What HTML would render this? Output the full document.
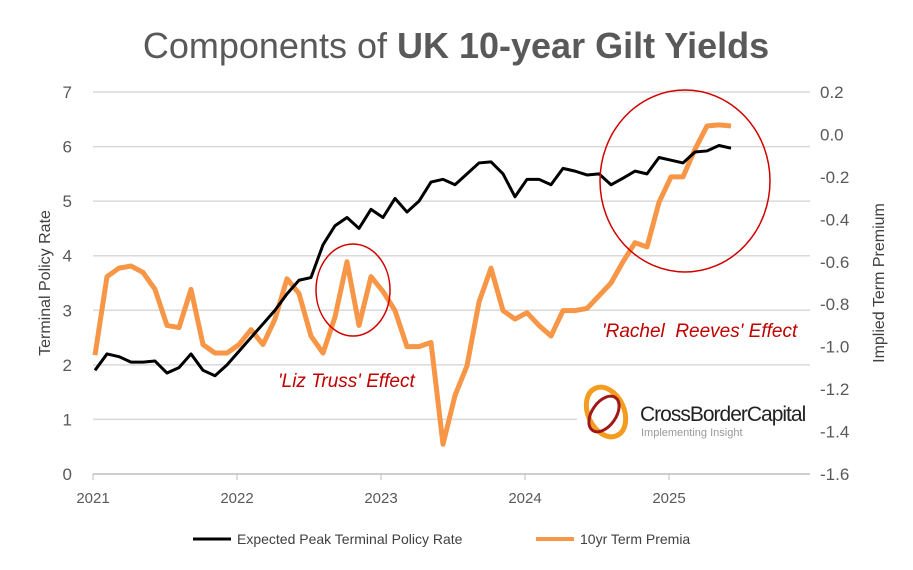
<!DOCTYPE html>
<html><head><meta charset="utf-8"><style>
body{margin:0;background:#fff;font-family:"Liberation Sans",sans-serif}
svg{display:block}
</style></head><body>
<svg id="c" width="913" height="570">
<text x="456" y="58" text-anchor="middle" font-size="36" fill="#595959">Components of <tspan font-weight="bold">UK 10-year Gilt Yields</tspan></text>
<g id="grid"></g>
<rect x="577" y="372" width="233" height="86" fill="#fff"/>
<g id="series"></g>
<ellipse cx="353" cy="290" rx="37" ry="46" fill="none" stroke="#d00000" stroke-width="1.5"/>
<ellipse cx="685" cy="181" rx="85" ry="91" fill="none" stroke="#d00000" stroke-width="1.5"/>
<text x="278" y="387" font-size="19" font-style="italic" fill="#c00000">'Liz Truss' Effect</text>
<text x="602" y="337" font-size="19" font-style="italic" fill="#c00000">'Rachel&#160; Reeves' Effect</text>
<g>
<ellipse cx="606" cy="412" rx="18" ry="26" fill="none" stroke="#f39c1f" stroke-width="5" transform="rotate(-25 606 412)"/>
<ellipse cx="604" cy="414" rx="12" ry="20" fill="none" stroke="#a01818" stroke-width="3" transform="rotate(35 604 414)"/>
<text x="640" y="421" font-size="21" fill="#222" letter-spacing="-1">CrossBorderCapital</text>
<text x="641" y="436" font-size="11" fill="#999">Implementing Insight</text>
</g>
<text transform="translate(50 283) rotate(-90)" text-anchor="middle" font-size="16" fill="#404040">Terminal Policy Rate</text>
<text transform="translate(884 283) rotate(-90)" text-anchor="middle" font-size="16" fill="#404040">Implied Term Premium</text>
<g>
<line x1="193" y1="539" x2="231" y2="539" stroke="#000" stroke-width="3"/>
<text x="237" y="544" font-size="14" fill="#404040">Expected Peak Terminal Policy Rate</text>
<line x1="536" y1="539" x2="574" y2="539" stroke="#f79646" stroke-width="4"/>
<text x="580" y="544" font-size="14" fill="#404040">10yr Term Premia</text>
</g>
</svg>
<script>
const leftTicks=[0,1,2,3,4,5,6,7];
const rightTicks=[-1.6,-1.4,-1.2,-1.0,-0.8,-0.6,-0.4,-0.2,0.0,0.2];
const years=[2021,2022,2023,2024,2025];
const policyRate=[1.9,2.2,2.15,2.05,2.05,2.07,1.85,1.95,2.2,1.9,1.8,2.0,2.25,2.5,2.75,3.0,3.3,3.55,3.6,4.2,4.55,4.7,4.5,4.85,4.7,5.05,4.8,5.0,5.35,5.4,5.3,5.5,5.7,5.72,5.5,5.08,5.4,5.4,5.3,5.6,5.55,5.48,5.5,5.3,5.42,5.55,5.5,5.8,5.75,5.7,5.9,5.92,6.02,5.97];
const termPremia=[-1.04,-0.67,-0.63,-0.62,-0.65,-0.73,-0.9,-0.91,-0.73,-0.99,-1.03,-1.03,-0.99,-0.92,-0.99,-0.87,-0.68,-0.75,-0.95,-1.03,-0.86,-0.6,-0.9,-0.67,-0.74,-0.83,-1.0,-1.0,-0.98,-1.46,-1.23,-1.09,-0.79,-0.63,-0.83,-0.87,-0.84,-0.9,-0.95,-0.83,-0.83,-0.82,-0.76,-0.7,-0.6,-0.51,-0.53,-0.32,-0.2,-0.2,-0.07,0.04,0.045,0.04];
const NS="http://www.w3.org/2000/svg";
const X0=93,X1=810,YT=92,YB=474;
const xM=i=>95+i*12;
const xY=y=>X0+(y-2021)*144;
const yL=v=>YB-v/7*(YB-YT);
const yR=v=>YB-(v+1.6)/1.8*(YB-YT);
function mk(t,a,p){const e=document.createElementNS(NS,t);for(const k in a)e.setAttribute(k,a[k]);p.appendChild(e);return e;}
const g=document.getElementById('grid');
leftTicks.forEach(v=>{
 const y=yL(v);
 const l=mk('line',{x1:X0,x2:X1,y1:y,y2:y,stroke:v===0?'#bfbfbf':'#d9d9d9','stroke-width':1.5},g);
 
 
 const t=mk('text',{x:72,y:y+6,'text-anchor':'end','font-size':17,fill:'#595959'},g);t.textContent=v;
 
 
});
rightTicks.forEach(v=>{
 const t=mk('text',{x:820,y:yR(v)+6,'font-size':17,fill:'#595959'},g);t.textContent=v.toFixed(1);
 
 
});
years.forEach(yr=>{
 const x=xY(yr);
 const k=mk('line',{x1:x,x2:x,y1:YB,y2:YB+6,stroke:'#bfbfbf'},g);
 
 
 const t=mk('text',{x:x,y:503,'text-anchor':'middle','font-size':15,fill:'#595959'},g);t.textContent=yr;
 
 
});
const s=document.getElementById('series');
const p1=mk('polyline',{points:termPremia.map((v,i)=>xM(i)+','+yR(v)).join(' '),fill:'none',stroke:'#f79646','stroke-width':5,'stroke-linejoin':'round'},s);


const p2=mk('polyline',{points:policyRate.map((v,i)=>xM(i)+','+yL(v)).join(' '),fill:'none',stroke:'#000','stroke-width':3,'stroke-linejoin':'round'},s);


</script>
</body></html>
